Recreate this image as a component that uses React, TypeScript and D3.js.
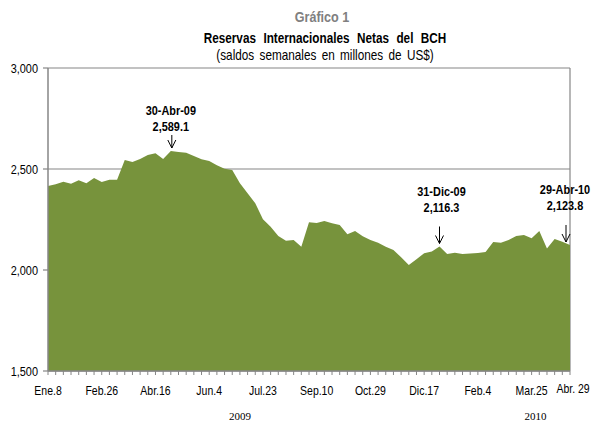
import React from "react";
import * as d3 from "d3";

const reserves: number[] = [
  2416, 2424, 2437, 2427, 2444, 2429, 2455, 2436, 2447, 2447,
  2545, 2535, 2550, 2569, 2578, 2550, 2589.1, 2584, 2581, 2564,
  2548, 2540, 2518, 2501, 2495, 2429, 2380, 2330, 2251, 2214,
  2168, 2145, 2149, 2115, 2236, 2233, 2243, 2231, 2223, 2177,
  2193, 2167, 2149, 2135, 2115, 2099, 2063, 2025, 2053, 2083,
  2091, 2116.3, 2079, 2086, 2079, 2082, 2084, 2089, 2139, 2135,
  2149, 2168, 2173, 2157, 2193, 2107, 2153, 2140, 2123.8,
];

const tickLabelIndex: number[] = [0, 7, 14, 21, 28, 35, 42, 49, 56, 63, 68];
const tickLabels: string[] = [
  "Ene.8", "Feb.26", "Abr.16", "Jun.4", "Jul.23", "Sep.10",
  "Oct.29", "Dic.17", "Feb.4", "Mar.25", "Abr. 29",
];
const yTicks: number[] = [1500, 2000, 2500, 3000];
const years: { label: string; at: number }[] = [
  { label: "2009", at: 25 },
  { label: "2010", at: 63.5 },
];
const annotations: { idx: number; date: string; value: string }[] = [
  { idx: 16, date: "30-Abr-09", value: "2,589.1" },
  { idx: 51, date: "31-Dic-09", value: "2,116.3" },
  { idx: 68, date: "29-Abr-10", value: "2,123.8" },
];

const W = 592;
const H = 424;
const left = 48;
const right = 570;
const top = 68;
const bottom = 371;

type NProps = {
  x: number;
  y: number;
  sx?: number;
  size: number;
  anchor?: "start" | "middle" | "end";
  weight?: string;
  fill?: string;
  ws?: number;
  children: React.ReactNode;
};

// condensed text (Arial Narrow look) via horizontal scaling
function NText({ x, y, sx = 0.84, size, anchor = "middle", weight = "normal", fill = "#000", ws = 0, children }: NProps) {
  return (
    <text
      transform={`translate(${x},${y}) scale(${sx},1)`}
      textAnchor={anchor}
      fontSize={size}
      fontWeight={weight}
      fill={fill}
      wordSpacing={ws}
    >
      {children}
    </text>
  );
}

export default function App() {
  const x = d3.scaleLinear().domain([0, reserves.length - 1]).range([left, right]);
  const y = d3.scaleLinear().domain([1500, 3000]).range([bottom, top]);
  const area = d3
    .area<number>()
    .x((_, i) => x(i))
    .y0(y(1500))
    .y1((d) => y(d));
  const font = "'Liberation Sans', Arial, sans-serif";
  const grid = "#868686";
  const layout: Record<number, { len: number; gap: number; dx: number; ax: number }> = {
    16: { len: 13, gap: 4, dx: -1, ax: 1 },
    51: { len: 17, gap: 15, dx: 2, ax: 0 },
    68: { len: 17, gap: 15, dx: -1, ax: -4 },
  };
  return (
    <svg
      width={W}
      height={H}
      style={{ position: "absolute", left: 0, top: 0, background: "#fff" }}
      fontFamily={font}
    >
      {/* titles */}
      <NText x={322} y={22} size={15} weight="bold" fill="#808080">
        Gráfico 1
      </NText>
      <NText x={325} y={43} size={14} weight="bold" ws={5}>
        Reservas Internacionales Netas del BCH
      </NText>
      <NText x={325} y={60} size={14} ws={2.5}>
        (saldos semanales en millones de US$)
      </NText>

      {/* plot frame & gridlines */}
      {yTicks.map((t) => (
        <line key={"g" + t} x1={left} x2={right} y1={y(t)} y2={y(t)} stroke={grid} strokeWidth={1.2} />
      ))}
      <line x1={right} x2={right} y1={top} y2={bottom} stroke={grid} strokeWidth={1.2} />

      {/* area */}
      <path d={area(reserves) || ""} fill="#77933C" />

      {/* y axis */}
      <line x1={left} x2={left} y1={top} y2={bottom} stroke={grid} strokeWidth={1.5} />
      {yTicks.map((t) => (
        <g key={"y" + t}>
          <line x1={left - 5} x2={left} y1={y(t)} y2={y(t)} stroke={grid} strokeWidth={1.2} />
          <NText x={left - 10} y={y(t) + 4.5} size={13} anchor="end">
            {d3.format(",")(t)}
          </NText>
        </g>
      ))}

      {/* x axis */}
      <line x1={left} x2={right} y1={bottom} y2={bottom} stroke={grid} strokeWidth={1.5} />
      {reserves.map((_, i) => (
        <line key={"xt" + i} x1={x(i)} x2={x(i)} y1={bottom} y2={bottom + 4} stroke={grid} strokeWidth={1} />
      ))}
      {tickLabelIndex.map((idx, k) => (
        <NText
          key={"xl" + k}
          x={x(idx) + (k === tickLabelIndex.length - 1 ? 3 : 0)}
          y={k === tickLabelIndex.length - 1 ? 393 : 395}
          size={12.5}
        >
          {tickLabels[k]}
        </NText>
      ))}
      {years.map((yr) => (
        <text
          key={yr.label}
          x={x(yr.at)}
          y={420}
          textAnchor="middle"
          fontSize={11}
          fontFamily="'Liberation Serif', 'Times New Roman', serif"
          fill="#000"
        >
          {yr.label}
        </text>
      ))}

      {/* annotations */}
      {annotations.map((a) => {
        const L = layout[a.idx];
        const px = x(a.idx) + L.ax;
        const py = y(reserves[a.idx]);
        const tipY = py - 3;
        const tailY = tipY - L.len;
        const tx = px + L.dx;
        return (
          <g key={a.date}>
            <NText x={tx} y={tailY - L.gap - 16} size={13} weight="bold">
              {a.date}
            </NText>
            <NText x={tx} y={tailY - L.gap} size={13} weight="bold">
              {a.value}
            </NText>
            <line x1={px} x2={px} y1={tailY} y2={tipY} stroke="#000" strokeWidth={1} />
            <path
              d={`M${px - 4},${tipY - 8} L${px},${tipY} L${px + 4},${tipY - 8}`}
              fill="none"
              stroke="#000"
              strokeWidth={1}
            />
          </g>
        );
      })}
    </svg>
  );
}
